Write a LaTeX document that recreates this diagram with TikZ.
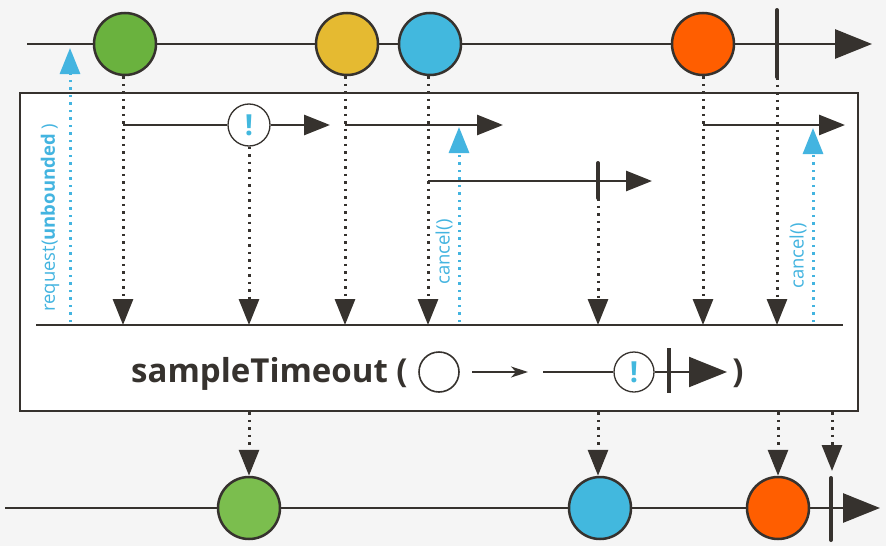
\documentclass[tikz,border=0pt]{standalone}
\usepackage{fontspec}
\setmainfont{Open Sans}
\usetikzlibrary{arrows.meta}
\definecolor{bgc}{HTML}{F5F5F5}
\definecolor{ink}{HTML}{36322E}
\definecolor{mgreen}{HTML}{6AB23E}
\definecolor{mgreenb}{HTML}{7BBE4E}
\definecolor{myellow}{HTML}{E5BA31}
\definecolor{mblue}{HTML}{42B8DE}
\definecolor{morange}{HTML}{FF5E00}
\definecolor{reqblue}{HTML}{43B4E0}
\tikzset{
  marble/.style={circle, draw=ink, line width=2.5pt, minimum size=62pt, inner sep=0pt},
  errc/.style={circle, draw=ink, line width=1.3pt, fill=white, minimum size=42pt, inner sep=0pt, text=mblue, font=\fontsize{29}{29}\selectfont\bfseries},
  tline/.style={draw=ink, line width=2.8pt},
  bigtip/.style={-{Triangle[length=37pt,width=29pt]}},
  smalltip/.style={-{Triangle[length=26pt,width=20pt]}},
  dots/.style={draw=ink, line width=3pt, dash pattern=on 2.5pt off 5pt},
  bdots/.style={draw=reqblue, line width=3pt, dash pattern=on 2.5pt off 5pt, -{Triangle[length=26pt,width=20pt]}},
  endbar/.style={draw=ink, line width=4pt, line cap=round},
  blab/.style={text=reqblue, rotate=90, font=\fontsize{18.5}{18.5}\selectfont, inner sep=0pt}
}
\begin{document}
\begin{tikzpicture}[x=1pt,y=-1pt]
\fill[bgc] (0,0) rectangle (886,546);
\useasboundingbox (0,0) rectangle (886,546);

% operator box
\node[draw=ink, fill=white, line width=2.5pt, minimum width=838pt, minimum height=318pt, inner sep=0pt] (box) at (439,252) {};

% top timeline
\coordinate (tstart) at (27,44);
\coordinate (tend) at (872,44);
\draw[tline, bigtip] (tstart) -- (tend);
\node[marble, fill=mgreen] (g1) at (125,44) {};
\node[marble, fill=myellow] (y1) at (347,44) {};
\node[marble, fill=mblue] (b1) at (430,44) {};
\node[marble, fill=morange] (o1) at (703,44) {};
\coordinate (c1t) at (777,10);
\coordinate (c1b) at (777,77);
\draw[endbar] (c1t) -- (c1b);

% inner baseline
\coordinate (base) at (36,325);
\coordinate (baseend) at (843,325);
\draw[tline] (base) -- (baseend);

% request arrow
\coordinate (rq0) at (70,322);
\coordinate (rq1) at (70,48);
\draw[bdots] (rq0) -- (rq1);
\node[blab, anchor=west] (rqlab) at (50,312) {request(\textbf{unbounded} )};

% green inner sequence
\coordinate (g1h) at (123,125);
\node[errc] (e1) at (249,125) {!};
\coordinate (g1e) at (330,125);
\draw[tline] (g1h) -- (e1);
\draw[tline, smalltip] (e1) -- (g1e);

% yellow inner sequence
\coordinate (y1h) at (345,125);
\coordinate (y1e) at (503,125);
\draw[tline, smalltip] (y1h) -- (y1e);
\coordinate (cn1b) at (459,322);
\coordinate (cn1t) at (459,127);
\draw[bdots] (cn1b) -- (cn1t);
\node[blab] (cn1lab) at (444,252) {cancel()};

% blue inner sequence
\coordinate (b1h) at (428,181);
\coordinate (b1e) at (652,181);
\draw[tline, smalltip] (b1h) -- (b1e);
\coordinate (c2t) at (598,163);
\coordinate (c2b) at (598,198);
\draw[endbar] (c2t) -- (c2b);

% orange inner sequence
\coordinate (o1h) at (703,125);
\coordinate (o1e) at (845,125);
\draw[tline, smalltip] (o1h) -- (o1e);
\coordinate (cn2b) at (813,322);
\coordinate (cn2t) at (813,128);
\draw[bdots] (cn2b) -- (cn2t);
\node[blab] (cn2lab) at (798,256) {cancel()};

% dotted drops to baseline
\draw[dots, smalltip] ([xshift=-2pt]g1.south) -- (g1h |- base);
\draw[dots, smalltip] (e1.south) -- (e1 |- base);
\draw[dots, smalltip] ([xshift=-2pt]y1.south) -- (y1h |- base);
\draw[dots, smalltip] ([xshift=-2pt]b1.south) -- (b1h |- base);
\draw[dots, smalltip] (c2b) -- (c2b |- base);
\draw[dots, smalltip] (o1.south) -- (o1h |- base);
\draw[dots, smalltip] (c1b) -- (c1b |- base);

% operator label
\node[anchor=base west, inner sep=0pt, text=ink, font=\fontsize{33}{36}\selectfont\bfseries] (lbl) at (131,382) {sampleTimeout (};
\node[circle, draw=ink, line width=1.6pt, minimum size=40pt, inner sep=0pt] (oc) at (439,372) {};
\coordinate (sa0) at (472,372);
\coordinate (sa1) at (528,372);
\draw[draw=ink, line width=1.3pt, -{Stealth[length=17pt,width=11pt,inset=5pt]}] (sa0) -- (sa1);
\coordinate (ol0) at (543,372);
\node[errc, minimum size=40pt] (e2) at (634,372) {!};
\coordinate (ol1) at (727,372);
\draw[tline, line width=2pt] (ol0) -- (e2);
\draw[tline, line width=2pt, -{Triangle[length=38pt,width=30pt]}] (e2) -- (ol1);
\coordinate (ob0) at (669,348);
\coordinate (ob1) at (669,393);
\draw[endbar, line width=3.5pt, line cap=butt] (ob0) -- (ob1);
\node[anchor=base, inner sep=0pt, text=ink, font=\fontsize{33}{36}\selectfont\bfseries] (rpar) at (738,382) {)};

% bottom timeline
\coordinate (bstart) at (5,508);
\coordinate (bend) at (880,508);
\draw[tline, bigtip] (bstart) -- (bend);
\node[marble, fill=mgreenb] (g2) at (249,508) {};
\node[marble, fill=mblue] (b2) at (600,508) {};
\node[marble, fill=morange] (o2) at (778,508) {};
\coordinate (c3t) at (831,478);
\coordinate (c3b) at (831,540);
\draw[endbar] (c3t) -- (c3b);

% dotted drops to output
\draw[dots, smalltip] (g2 |- box.south) -- (g2.north);
\draw[dots, smalltip] ([xshift=-2pt]b2 |- box.south) -- ([xshift=-2pt]b2.north);
\draw[dots, smalltip] (o2 |- box.south) -- (o2.north);
\draw[dots, smalltip] ([xshift=1pt]c3t |- box.south) -- ([xshift=1pt,yshift=7pt]c3t);
\end{tikzpicture}
\end{document}
